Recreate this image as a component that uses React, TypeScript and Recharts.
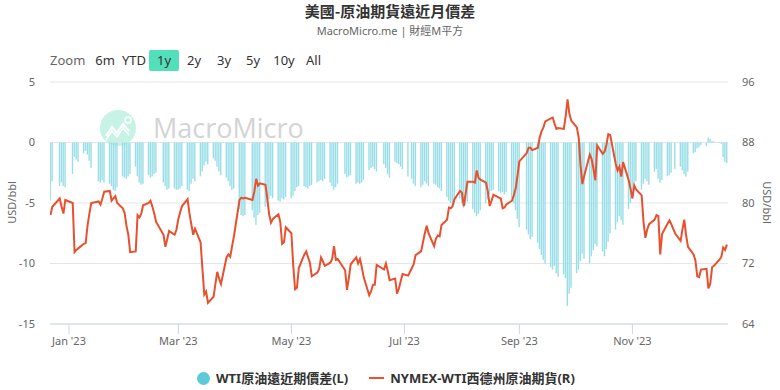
import { ComposedChart, Bar, Line, XAxis, YAxis, CartesianGrid } from "recharts";

const FONT = '"Noto Sans", "Noto Sans CJK TC", sans-serif';
const BAR = "#97dee7";
const LINE = "#e8502f";
const GRID = "#e6e6e6";
const AXIS = "#ccd6eb";
const LABEL = "#666666";

// Monday of each trading week; values are Mon..Fri, null = no trading / outside range
const weekStarts = [
  "2022-12-19", "2022-12-26", "2023-01-02", "2023-01-09", "2023-01-16", "2023-01-23", "2023-01-30",
  "2023-02-06", "2023-02-13", "2023-02-20", "2023-02-27", "2023-03-06", "2023-03-13", "2023-03-20",
  "2023-03-27", "2023-04-03", "2023-04-10", "2023-04-17", "2023-04-24", "2023-05-01", "2023-05-08",
  "2023-05-15", "2023-05-22", "2023-05-29", "2023-06-05", "2023-06-12", "2023-06-19", "2023-06-26",
  "2023-07-03", "2023-07-10", "2023-07-17", "2023-07-24", "2023-07-31", "2023-08-07", "2023-08-14",
  "2023-08-21", "2023-08-28", "2023-09-04", "2023-09-11", "2023-09-18", "2023-09-25", "2023-10-02",
  "2023-10-09", "2023-10-16", "2023-10-23", "2023-10-30", "2023-11-06", "2023-11-13", "2023-11-20",
  "2023-11-27", "2023-12-04", "2023-12-11", "2023-12-18",
];

// WTI 遠近月價差 (USD/bbl)
const spreadByWeek: (number | null)[][] = [
  [null, null, null, -4.8, -3.2], [null, -3.6, -3.3, -3.6, -3.7], [null, -2.6, -1.2, -1.4, -1.6],
  [-0.9, -0.7, -1.0, -1.5, -2.1], [null, -3.2, -3.3, -3.1, -3.3], [-3.4, -3.6, -3.9, -4.0, -3.7],
  [-2.8, -2.9, -3.0, -2.8, -2.6], [-2.0, -2.8, -3.3, -3.5, -3.4], [-2.7, -2.9, -2.8, -2.6, -2.5],
  [null, -3.3, -3.6, -3.9, -3.8], [-3.8, -3.9, -3.9, -3.8, -3.6], [-3.9, -4.0, -3.4, -3.0, -3.2],
  [-2.8, -2.4, -1.9, -1.6, -1.8], [-1.3, -1.5, -2.0, -2.4, -2.7], [-2.9, -3.2, -3.6, -3.9, -3.8],
  [-5.5, -6.0, -6.1, -6.0, null], [-5.6, -6.2, -6.8, -6.0, -5.8], [-5.3, -5.0, -4.7, -4.4, -4.6],
  [-4.8, -4.9, -4.6, -4.7, -4.5], [-4.6, -4.4, -4.0, -3.7, -3.6], [-3.6, -3.7, -3.8, -3.6, -3.5],
  [-3.3, -3.2, -3.1, -3.2, -3.0], [-3.3, -3.6, -3.9, -3.7, -3.4], [null, -2.6, -2.9, -2.8, -2.7],
  [-3.4, -3.3, -3.4, -3.3, -3.1], [-2.3, -2.1, -2.0, -2.2, -2.4], [null, -1.8, -2.1, -2.6, -2.9],
  [-1.6, -1.7, -1.8, -2.0, -2.2], [-2.8, null, -3.0, -3.4, -3.6], [-3.7, -3.5, -3.2, -3.4, -3.6],
  [-3.4, -3.5, -3.7, -3.8, -4.0], [-4.5, -4.8, -5.0, -5.3, -4.9], [-4.6, -5.0, -5.4, -5.2, -4.9],
  [-5.5, -5.8, -6.1, -5.9, -5.6], [-5.0, -4.7, -4.3, -4.0, -3.9], [-4.0, -4.2, -4.1, -4.3, -4.1],
  [-4.6, -5.0, -5.6, -6.3, -7.0], [null, -7.2, -7.6, -8.0, -7.8], [-8.3, -8.8, -9.3, -9.7, -10.0],
  [-10.3, -10.5, -10.2, -10.8, -11.1], [-10.9, -11.2, -13.5, -12.5, -12.0], [-10.8, -10.5, -9.8, -9.2, -9.6],
  [-10.0, -9.4, -8.9, -8.4, -8.6], [-9.0, -9.4, -8.8, -8.2, -7.5], [-7.2, -6.6, -6.1, -6.4, -6.8],
  [-5.5, -5.0, -4.3, -3.7, -3.2], [-3.9, -3.4, -3.0, -3.2, -3.5], [-2.4, -2.2, -3.0, -3.3, -3.1],
  [-2.8, -2.7, -2.5, null, -2.2], [-2.0, -2.3, -2.6, -2.8, -2.4], [-0.9, -0.8, -0.5, -0.4, -0.2],
  [-0.3, 0.4, 0.3, 0.1, 0.1], [0.05, -0.1, -1.2, -1.6, -1.7],
];

// NYMEX-WTI 期貨價格 (USD/bbl)
const priceByWeek: (number | null)[][] = [
  [null, null, null, 78.4, 79.5], [null, 80.6, 79.5, 78.6, 80.4], [null, 80.0, 73.5, 73.8, 74.0],
  [74.6, 74.7, 77.0, 78.6, 80.0], [null, 80.2, 79.8, 80.6, 81.5], [81.6, 80.3, 80.6, 80.9, 80.0],
  [79.3, 78.7, 77.0, 75.8, 73.5], [73.6, 78.4, 78.1, 78.6, 79.7], [80.0, 80.3, 79.5, 78.6, 77.5],
  [null, 75.8, 74.2, 75.2, 76.3], [75.8, 76.5, 77.9, 78.8, 79.6], [80.5, 78.6, 77.2, 75.8, 76.6],
  [74.8, 71.3, 67.9, 68.3, 66.8], [67.6, 69.3, 70.9, 70.0, 69.3], [72.8, 73.2, 72.9, 74.3, 75.6],
  [80.4, 80.7, 80.6, 80.7, null], [80.4, 81.5, 83.2, 82.3, 82.6], [82.4, 80.6, 78.5, 77.4, 77.9],
  [78.5, 77.5, 74.6, 74.8, 76.8], [76.0, 71.7, 68.6, 68.8, 71.4], [73.2, 73.6, 72.8, 72.1, 70.3],
  [70.8, 71.3, 72.8, 72.3, 71.7], [72.1, 72.6, 74.3, 72.5, 72.6], [null, 71.1, 68.5, 70.1, 71.9],
  [72.8, 72.0, 72.6, 71.5, 70.2], [67.8, 68.3, 69.2, 69.2, 71.8], [null, 71.2, 72.0, 71.0, 69.8],
  [70.0, 68.0, 68.7, 69.7, 70.6], [70.4, null, 71.4, 71.9, 73.1], [73.6, 74.8, 76.0, 77.0, 76.0],
  [74.3, 75.3, 75.7, 75.6, 77.1], [77.8, 79.4, 79.3, 79.6, 80.5], [81.6, 81.4, 79.6, 81.2, 82.8],
  [82.8, 82.7, 84.3, 83.3, 83.1], [82.7, 81.5, 79.6, 80.3, 81.1], [80.7, 80.6, 79.3, 79.4, 79.8],
  [80.3, 81.0, 81.9, 83.6, 85.5], [null, 86.6, 87.3, 87.3, 87.0], [87.3, 88.7, 89.5, 90.0, 90.8],
  [91.2, 91.3, 90.5, 89.8, 89.9], [89.8, 91.5, 93.7, 91.8, 90.9], [90.0, 88.7, 85.0, 82.5, 83.6],
  [86.4, 85.8, 84.5, 83.0, 87.6], [86.5, 86.8, 87.7, 89.1, 89.0], [85.2, 84.3, 84.8, 83.5, 85.4],
  [83.0, 81.9, 80.6, 82.3, 81.8], [81.0, 77.5, 75.4, 76.5, 77.2], [77.8, 78.4, 78.3, 73.2, 75.9],
  [77.3, 77.7, 77.2, null, 76.0], [75.0, 76.5, 77.8, 75.7, 74.2], [73.2, 72.4, 70.3, 70.2, 71.2],
  [71.3, 68.7, 69.3, 71.5, 71.7], [72.5, 72.9, 74.1, 73.8, 74.5],
];

const xTicks = ["2023-01-01", "2023-03-01", "2023-05-01", "2023-07-01", "2023-09-01", "2023-11-01"];
const leftTicks = [-15, -10, -5, 0, 5];
const rightTicks = [64, 72, 80, 88, 96];
const ranges = ["6m", "YTD", "1y", "2y", "3y", "5y", "10y", "All"];
const MONTHS = ["Jan", "Feb", "Mar", "Apr", "May", "Jun", "Jul", "Aug", "Sep", "Oct", "Nov", "Dec"];

const DAY = 86400000;
const data: { t: number; spread: number | null; price: number | null }[] = [];
weekStarts.forEach((w, wi) => {
  const mon = Date.parse(w + "T00:00:00Z");
  for (let i = 0; i < 5; i++) {
    const price = priceByWeek[wi][i];
    const spread = spreadByWeek[wi][i];
    if (price == null && spread == null) continue;
    data.push({ t: mon + i * DAY, spread, price });
  }
});

const xDomain = [Date.parse("2022-12-21T18:00:00Z"), Date.parse("2023-12-22T14:00:00Z")];
const tickTimes = xTicks.map((d) => Date.parse(d + "T00:00:00Z"));
const fmtMonth = (t: number) => {
  const d = new Date(t);
  return `${MONTHS[d.getUTCMonth()]} '${String(d.getUTCFullYear()).slice(2)}`;
};

const abs = (x: number, y: number): React.CSSProperties => ({ position: "absolute", left: x, top: y, whiteSpace: "nowrap" });

export default function App() {
  return (
    <div style={{ position: "absolute", left: 0, top: 0, width: 780, height: 390, background: "#fff", fontFamily: FONT, overflow: "hidden" }}>
      <div style={{ ...abs(0, 0), width: 780, textAlign: "center", fontSize: 15, fontWeight: 700, color: "#333", lineHeight: "22px", fontFamily: '"Noto Sans CJK TC", sans-serif' }}>
        美國-原油期貨遠近月價差
      </div>
      <div style={{ ...abs(0, 22), width: 780, textAlign: "center", fontSize: 11, color: LABEL, lineHeight: "18px", fontFamily: '"Noto Sans", "Noto Sans CJK TC", sans-serif' }}>
        MacroMicro.me | 財經M平方
      </div>

      <div style={{ ...abs(50, 50), fontSize: 13, color: LABEL, lineHeight: "21px" }}>Zoom</div>
      {ranges.map((r, i) => {
        const lefts = [95, 121, 149, 186, 216, 245, 273, 305];
        const widths = [20, 26, 30, 16, 16, 16, 22, 17];
        const active = r === "1y";
        return (
          <div
            key={r}
            style={{
              ...abs(lefts[i], 50),
              width: widths[i],
              height: 21,
              lineHeight: "21px",
              textAlign: "center",
              fontSize: 13,
              color: "#333",
              background: active ? "#52dfba" : "transparent",
              borderRadius: 2,
            }}
          >
            {r}
          </div>
        );
      })}

      <svg width={300} height={60} style={{ position: "absolute", left: 95, top: 98 }}>
        <circle cx={23} cy={30} r={18} fill="#c7f3e6" />
        <polyline points="11,38 17,29 22,35 28,26 34,33" fill="none" stroke="#fff" strokeWidth={2.2} />
        <polyline points="11,42 17,33 22,39 28,30 34,37" fill="none" stroke="#fff" strokeWidth={1.4} />
        <circle cx={33} cy={22} r={3} fill="none" stroke="#fff" strokeWidth={1.6} />
        <text x={58} y={40} fontSize={27} fill="#d4d4d4" fontFamily='"Open Sans", sans-serif'>
          MacroMicro
        </text>
      </svg>

      <div style={{ position: "absolute", left: 0, top: 0 }}>
        <ComposedChart width={780} height={390} data={data} margin={{ top: 82, right: 0, bottom: 0, left: 0 }}>
          <CartesianGrid yAxisId="left" horizontal vertical={false} stroke={GRID} />
          <XAxis
            dataKey="t"
            type="number"
            scale="linear"
            domain={xDomain}
            ticks={tickTimes}
            tickFormatter={fmtMonth}
            allowDataOverflow
            height={66}
            tickSize={10}
            tickMargin={3}
            stroke={AXIS}
            tick={{ fill: LABEL, fontSize: 11 }}
          />
          <YAxis
            yAxisId="left"
            domain={[-15, 5]}
            ticks={leftTicks}
            allowDataOverflow
            width={50}
            axisLine={false}
            tickLine={false}
            tickMargin={9}
            tick={{ fill: LABEL, fontSize: 11 }}
          />
          <YAxis
            yAxisId="right"
            orientation="right"
            domain={[64, 96]}
            ticks={rightTicks}
            allowDataOverflow
            width={52}
            axisLine={false}
            tickLine={false}
            tickMargin={8}
            tick={{ fill: LABEL, fontSize: 11 }}
          />
          <Bar yAxisId="left" dataKey="spread" fill={BAR} barSize={1.4} isAnimationActive={false} />
          <Line
            yAxisId="right"
            dataKey="price"
            type="linear"
            stroke={LINE}
            strokeWidth={2}
            dot={false}
            activeDot={false}
            isAnimationActive={false}
          />
        </ComposedChart>
      </div>

      <div style={{ ...abs(-12, 195), fontSize: 11, color: LABEL, transform: "rotate(-90deg)", transformOrigin: "center", width: 46, textAlign: "center" }}>
        USD/bbl
      </div>
      <div style={{ ...abs(744, 195), fontSize: 11, color: LABEL, transform: "rotate(90deg)", transformOrigin: "center", width: 46, textAlign: "center" }}>
        USD/bbl
      </div>

      <div style={{ ...abs(197, 368), display: "flex", alignItems: "center", fontSize: 13, fontWeight: 700, color: "#333", lineHeight: "20px", fontFamily: '"Noto Sans", "Noto Sans CJK TC", sans-serif' }}>
        <span style={{ width: 13, height: 13, borderRadius: "50%", background: "#5ccad8", display: "inline-block", marginRight: 6 }} />
        <span>WTI原油遠近期價差(L)</span>
        <span style={{ width: 15, height: 2, background: LINE, display: "inline-block", margin: "0 6px 0 21px" }} />
        <span>NYMEX-WTI西德州原油期貨(R)</span>
      </div>
    </div>
  );
}
